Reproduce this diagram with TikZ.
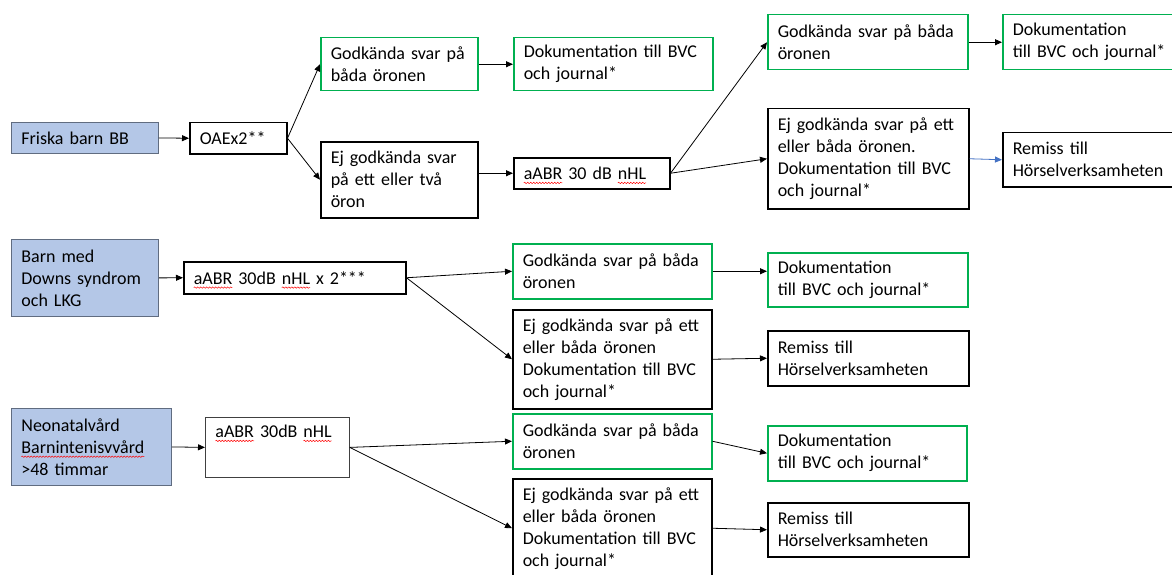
\documentclass[tikz,border=0pt]{standalone}
\usepackage{fontspec}
\setmainfont{Carlito}
\usepackage{tikz}
\usetikzlibrary{arrows.meta,decorations.pathmorphing}
\definecolor{bluefill}{RGB}{180,199,231}
\definecolor{blueedge}{RGB}{96,108,128}
\definecolor{okgreen}{RGB}{0,176,80}
\definecolor{linkblue}{RGB}{68,114,196}
\newsavebox\spellbox
\newcommand\spelling[1]{\leavevmode\sbox\spellbox{#1}\rlap{\tikz[overlay,baseline=0pt,x=1pt,y=1pt]\draw[red,line width=0.5pt,decorate,decoration={snake,amplitude=0.7pt,segment length=3pt}] (0,-3.5) -- (\the\wd\spellbox,-3.5);}\usebox\spellbox}

\begin{document}
\begin{tikzpicture}[x=1pt,y=-1pt,font=\fontsize{18}{22}\selectfont,
box/.style n args={3}{rectangle,draw=#1,line width=1.5pt,text width=#2,minimum height=#3,inner xsep=10pt,inner ysep=3pt,align=left,anchor=north west},
ok/.style n args={2}{box={okgreen}{#1}{#2}},
no/.style n args={2}{box={black}{#1}{#2}},
start/.style n args={2}{box={blueedge}{#1}{#2},fill=bluefill,line width=0.8pt},
arr/.style={-{Triangle[length=7pt,width=6pt]},line width=0.8pt}]
\useasboundingbox (0,0) rectangle (1172,575);
\clip (0,0) rectangle (1172,575);
\node[start={127pt}{31pt}] (friska) at (11,122) {Friska barn BB};
\node[no={77pt}{31pt}] (oae) at (189,122) {OAEx2**};
\node[ok={137pt}{53pt}] (g1) at (320,37) {Godkända svar på\\båda öronen};
\node[no={137pt}{76pt}] (e1) at (320,141) {Ej godkända svar\\på ett eller två\\öron};
\node[ok={179pt}{53pt}] (d1) at (513,37) {Dokumentation till BVC\\och journal*};
\node[no={136pt}{31pt}] (a1) at (513,157) {\spelling{aABR} 30 dB \spelling{nHL}};
\node[ok={180pt}{55pt}] (g2) at (767,14) {Godkända svar på båda\\öronen};
\node[no={181pt}{100pt}] (e2) at (767,108) {Ej godkända svar på ett\\eller båda öronen.\\Dokumentation till BVC\\och journal*};
\node[ok={190pt}{55pt}] (d2) at (1002,14) {Dokumentation\\till BVC och journal*};
\node[no={190pt}{54pt}] (r1) at (1002,132) {Remiss till\\Hörselverksamheten};

\node[start={127pt}{77pt}] (barn) at (11,239) {Barn med\\Downs syndrom\\och LKG};
\node[no={202pt}{32pt}] (aabr2) at (183,261) {\spelling{aABR} 30dB \spelling{nHL} x 2***};
\node[ok={179pt}{55pt}] (g3) at (512,243) {Godkända svar på båda\\öronen};
\node[no={179pt}{99pt}] (e3) at (512,309) {Ej godkända svar på ett\\eller båda öronen\\Dokumentation till BVC\\och journal*};
\node[ok={180pt}{54pt}] (d3) at (767,252) {Dokumentation\\till BVC och journal*};
\node[no={181pt}{55pt}] (r2) at (767,330) {Remiss till\\Hörselverksamheten};

\node[start={140pt}{77pt}] (neo) at (11,408) {Neonatalvård\\\spelling{Barnintenisvvård}\\>48 timmar};
\node[no={124pt}{60pt},draw=darkgray,line width=0.8pt,text height=17pt,text depth=37pt] (aabr3) at (205,417) {\spelling{aABR} 30dB \spelling{nHL}};
\node[ok={179pt}{55pt}] (g4) at (512,413) {Godkända svar på båda\\öronen};
\node[no={179pt}{99pt}] (e4) at (512,478) {Ej godkända svar på ett\\eller båda öronen\\Dokumentation till BVC\\och journal*};
\node[ok={179pt}{55pt}] (d4) at (767,425) {Dokumentation\\till BVC och journal*};
\node[no={181pt}{54pt}] (r3) at (767,502) {Remiss till\\Hörselverksamheten};

\foreach \a/\b in {friska/oae,oae/g1,oae/e1,g1/d1,a1/g2,a1/e2,g2/d2,barn/aabr2,aabr2/g3,aabr2/e3,e3/r2,neo/aabr3,aabr3/g4,aabr3/e4,g4/d4,e4/r3} {
   \draw[arr] (\a.east) -- (\b.west);
}
\draw[arr] (e1.east |- a1.west) -- (a1.west);
\draw[arr] (g3.east) -- (g3.east -| d3.west);
\draw[arr,draw=linkblue] (e2.east) -- (r1.west);
\end{tikzpicture}
\end{document}
